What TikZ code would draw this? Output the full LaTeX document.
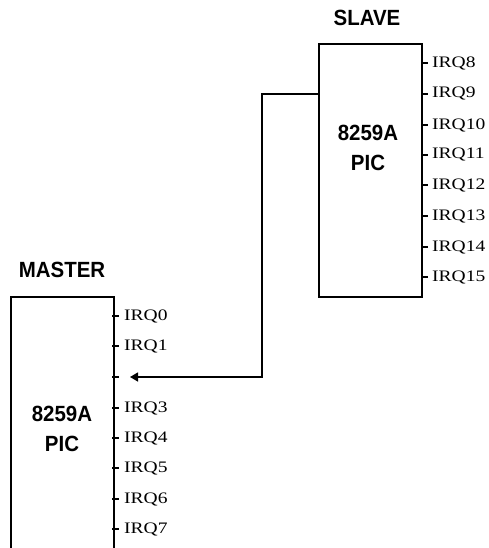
\documentclass[tikz,border=0pt]{standalone}
\usepackage{fontspec}
\setmainfont{Liberation Serif}
\newfontfamily\chipfont[FakeStretch=0.93]{Liberation Sans}
\newfontfamily\irqfont[FakeStretch=1.22]{Liberation Serif}
\usetikzlibrary{arrows.meta}
\tikzset{
  chip/.style={draw, line width=1.6pt, minimum width=103pt, anchor=north west, inner sep=0pt},
  title/.style={font=\chipfont\bfseries\fontsize{22}{24}\selectfont, inner sep=0pt},
  inside/.style={font=\chipfont\bfseries\fontsize{22}{30}\selectfont, align=center, inner sep=0pt},
  irq/.style={font=\irqfont\fontsize{16}{17}\selectfont, anchor=west, inner sep=0pt},
  tick/.style={line width=1.4pt},
  wire/.style={line width=1.4pt}
}
\begin{document}
\begin{tikzpicture}[x=1pt,y=-1pt]
\useasboundingbox (0,0) rectangle (488,548);
\clip (0,0) rectangle (488,548);
% slave
\node[chip, minimum height=253pt] (slave) at (318,43) {};
\node[title] (slavetitle) at (367,18) {SLAVE};
\node[inside] (slavetext) at (368,148) {8259A\\PIC};
\foreach \n/\y in {8/63,9/94,10/125,11/155,12/185,13/216,14/247,15/277}{
  \draw[tick] (421,\y) -- (428,\y);
  \node[irq] (irq\n) at (432,\y) {IRQ\n};
}
% master
\node[chip, minimum height=270pt] (master) at (10,296) {};
\node[title] (mastertitle) at (62,270) {MASTER};
\node[inside] (mastertext) at (62,429) {8259A\\PIC};
\foreach \n/\y in {0/316,1/346,2/377,3/408,4/438,5/468,6/499,7/529}{
  \draw[tick] (112,\y) -- (119,\y);
}
\foreach \n/\y in {0/316,1/346,3/408,4/438,5/468,6/499,7/529}{
  \node[irq] (irq\n) at (124,\y) {IRQ\n};
}
\coordinate (slaveout) at (318,94);
\coordinate (irqtwo) at (130,377);
\draw[wire, -{Triangle[length=8pt,width=9pt]}] (slaveout) -- (262,94) |- (irqtwo);
\end{tikzpicture}
\end{document}
